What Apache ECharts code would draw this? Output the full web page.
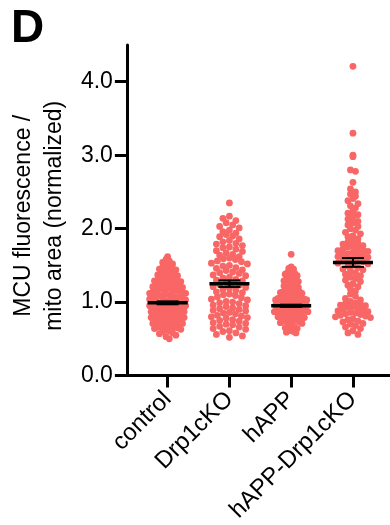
<!DOCTYPE html>
<html>
<head>
<meta charset="utf-8">
<script src="https://cdn.jsdelivr.net/npm/echarts@6/dist/echarts.min.js"></script>
<style>
html,body{margin:0;padding:0;background:#fff;}
#chart{width:390px;height:525px;}
</style>
</head>
<body>
<div id="chart"></div>
<script>
const categories = ['control', 'Drp1cKO', 'hAPP', 'hAPP-Drp1cKO'];
const yTicks = [0, 1, 2, 3, 4];

const controlValues = [
  1.62,
  1.58, 1.56, 1.54, 1.52, 1.50,
  1.49, 1.48, 1.46, 1.45, 1.44, 1.43, 1.41, 1.40,
  1.39, 1.38, 1.37, 1.36, 1.35, 1.34, 1.33, 1.32, 1.31, 1.30,
  1.29, 1.29, 1.28, 1.27, 1.26, 1.25, 1.25, 1.24, 1.23, 1.22, 1.21, 1.21, 1.20,
  1.19, 1.19, 1.18, 1.17, 1.17, 1.16, 1.15, 1.15, 1.14, 1.13, 1.12, 1.12, 1.11, 1.10,
  1.09, 1.09, 1.08, 1.07, 1.07, 1.06, 1.05, 1.05, 1.04, 1.03, 1.02, 1.02, 1.01, 1.00,
  0.99, 0.99, 0.98, 0.97, 0.97, 0.96, 0.95, 0.95, 0.94, 0.93, 0.92, 0.92, 0.91, 0.90,
  0.89, 0.89, 0.88, 0.87, 0.87, 0.86, 0.85, 0.85, 0.84, 0.83, 0.82, 0.82, 0.81, 0.80,
  0.79, 0.79, 0.78, 0.77, 0.76, 0.75, 0.75, 0.74, 0.73, 0.72, 0.71, 0.71, 0.70,
  0.69, 0.68, 0.67, 0.66, 0.66, 0.65, 0.64, 0.63, 0.62, 0.61, 0.60,
  0.58, 0.57, 0.55, 0.53, 0.50
];

const drp1ckoValues = [
  2.35,
  2.17, 2.14, 2.11,
  2.08, 2.05, 2.03, 2.01,
  1.98, 1.96, 1.94, 1.92, 1.90,
  1.89, 1.86, 1.84, 1.82, 1.80,
  1.79, 1.77, 1.75, 1.74, 1.72, 1.70,
  1.69, 1.67, 1.65, 1.64, 1.62, 1.60,
  1.59, 1.58, 1.56, 1.55, 1.53, 1.52, 1.50,
  1.49, 1.47, 1.46, 1.44, 1.43, 1.41, 1.40,
  1.39, 1.37, 1.36, 1.34, 1.33, 1.31, 1.30,
  1.29, 1.27, 1.26, 1.24, 1.23, 1.21, 1.20,
  1.19, 1.17, 1.16, 1.14, 1.13, 1.11, 1.10,
  1.09, 1.07, 1.06, 1.04, 1.03, 1.01, 1.00,
  0.99, 0.98, 0.96, 0.95, 0.94, 0.92, 0.91, 0.90,
  0.89, 0.88, 0.86, 0.85, 0.84, 0.82, 0.81, 0.80,
  0.79, 0.78, 0.76, 0.75, 0.74, 0.72, 0.71, 0.70,
  0.69, 0.67, 0.66, 0.64, 0.63, 0.61, 0.60,
  0.58, 0.56, 0.54, 0.52
];

const happValues = [
  1.65,
  1.48, 1.46, 1.45, 1.43, 1.42, 1.40,
  1.39, 1.38, 1.36, 1.35, 1.34, 1.33, 1.31, 1.30,
  1.29, 1.28, 1.27, 1.26, 1.25, 1.24, 1.23, 1.22, 1.20,
  1.19, 1.18, 1.18, 1.17, 1.16, 1.15, 1.14, 1.14, 1.13, 1.12, 1.11, 1.10,
  1.09, 1.09, 1.08, 1.08, 1.07, 1.06, 1.06, 1.05, 1.05, 1.04, 1.03, 1.03, 1.02, 1.01, 1.01, 1.00,
  0.99, 0.99, 0.98, 0.98, 0.97, 0.97, 0.96, 0.96, 0.95, 0.95, 0.94, 0.94, 0.93, 0.93, 0.92, 0.92, 0.91, 0.91, 0.90,
  0.89, 0.89, 0.88, 0.88, 0.87, 0.87, 0.86, 0.86, 0.85, 0.85, 0.84, 0.83, 0.83, 0.82, 0.82, 0.81, 0.80,
  0.79, 0.78, 0.78, 0.77, 0.76, 0.75, 0.75, 0.74, 0.73, 0.72, 0.71, 0.70,
  0.69, 0.68, 0.66, 0.65, 0.64, 0.62, 0.61,
  0.60, 0.59, 0.58
];

const happDrp1ckoValues = [
  4.21, 3.30, 3.00, 2.98, 2.80, 2.78, 2.63,
  2.54, 2.50,
  2.47, 2.44, 2.41,
  2.38, 2.34, 2.31,
  2.28, 2.24, 2.21,
  2.19, 2.16, 2.13, 2.10,
  2.08, 2.05, 2.03, 2.00,
  1.98, 1.95, 1.93, 1.90,
  1.89, 1.86, 1.84, 1.82, 1.80,
  1.79, 1.77, 1.76, 1.75, 1.73, 1.72, 1.71, 1.70,
  1.69, 1.68, 1.66, 1.65, 1.64, 1.63, 1.62, 1.61, 1.60,
  1.59, 1.57, 1.56, 1.55, 1.53, 1.52, 1.50,
  1.49, 1.47, 1.45, 1.44, 1.42, 1.40,
  1.38, 1.36, 1.34, 1.32, 1.30,
  1.28, 1.25, 1.23, 1.21,
  1.18, 1.15, 1.11,
  1.08, 1.05, 1.03, 1.01,
  0.99, 0.98, 0.97, 0.96, 0.95, 0.94, 0.93, 0.91, 0.90,
  0.89, 0.88, 0.87, 0.86, 0.85, 0.84, 0.83, 0.82, 0.81, 0.80,
  0.79, 0.77, 0.76, 0.74, 0.73, 0.71, 0.70,
  0.68, 0.66, 0.64, 0.61,
  0.58, 0.56
];

const groupValues = [controlValues, drp1ckoValues, happValues, happDrp1ckoValues];
const groupMeans = [0.99, 1.25, 0.95, 1.54];
const groupSems = [0.02, 0.045, 0.015, 0.06];

const FONT = '"Liberation Sans", Arial, Helvetica, sans-serif';
const DOT = '#F96666';
const DOT_SIZE = 6.8;
const ROW_HEIGHT = 6;                    // px, row binning like a Prism scatter dot plot
const GROUP_STEP = [3.3, 6.5, 2.4, 5.0]; // px, horizontal step inside a row
const HALF_WIDTH = 18;                   // px, max half spread of dot centres

const chart = echarts.init(document.getElementById('chart'), null, {renderer: 'canvas'});

function scatterData(offsets) {
  const out = [];
  groupValues.forEach((vals, gi) => {
    vals.forEach((v, k) => {
      out.push([gi + (offsets ? offsets[gi][k] : 0), v]);
    });
  });
  return out;
}

const option = {
  animation: false,
  title: {
    text: 'D',
    left: 6,
    top: 1,
    textStyle: {fontFamily: FONT, fontSize: 46, fontWeight: 'bold', color: '#000'}
  },
  grid: {left: 126, right: 0, top: 45, bottom: 147, containLabel: false},
  xAxis: {
    type: 'value',
    min: -0.66,
    max: 3.6,
    splitLine: {show: false},
    axisLine: {show: true, onZero: false, lineStyle: {color: '#000', width: 3}},
    axisTick: {show: true, customValues: [0, 1, 2, 3], length: 12, lineStyle: {color: '#000', width: 3}},
    axisLabel: {
      customValues: [0, 1, 2, 3],
      formatter: v => categories[Math.round(v)],
      rotate: 45,
      margin: 20,
      fontSize: 24,
      fontFamily: FONT,
      color: '#000'
    }
  },
  yAxis: {
    type: 'value',
    min: 0,
    max: 4.5,
    name: 'MCU fluorescence /\nmito area (normalized)',
    nameLocation: 'middle',
    nameGap: 49,
    nameRotate: 90,
    nameTextStyle: {fontFamily: FONT, fontSize: 23, lineHeight: 31, color: '#000', padding: [0, 11, 0, 0]},
    splitLine: {show: false},
    axisLine: {show: true, onZero: false, lineStyle: {color: '#000', width: 3}},
    axisTick: {show: true, customValues: yTicks, length: 12, lineStyle: {color: '#000', width: 3}},
    axisLabel: {
      customValues: yTicks,
      formatter: v => Number(v).toFixed(1),
      margin: 14,
      fontSize: 23,
      fontFamily: FONT,
      color: '#000'
    }
  },
  series: [
    {
      id: 'dots',
      type: 'scatter',
      symbol: 'circle',
      symbolSize: DOT_SIZE,
      itemStyle: {color: DOT, opacity: 1},
      emphasis: {disabled: true},
      z: 2,
      data: scatterData(null)
    },
    {
      id: 'meanSem',
      type: 'custom',
      z: 5,
      encode: {x: 0, y: 1},
      data: categories.map((c, i) => [i, groupMeans[i], groupSems[i]]),
      renderItem: function (params, api) {
        const i = api.value(0), m = api.value(1), s = api.value(2);
        const c = api.coord([i, m]);
        const t = api.coord([i, m + s]);
        const b = api.coord([i, m - s]);
        const st = {stroke: '#000', lineWidth: 2};
        return {
          type: 'group',
          children: [
            {type: 'line', shape: {x1: c[0], y1: t[1], x2: c[0], y2: b[1]}, style: st},
            {type: 'line', shape: {x1: c[0] - 11, y1: t[1], x2: c[0] + 11, y2: t[1]}, style: st},
            {type: 'line', shape: {x1: c[0] - 11, y1: b[1], x2: c[0] + 11, y2: b[1]}, style: st},
            {type: 'line', shape: {x1: c[0] - 20, y1: c[1], x2: c[0] + 20, y2: c[1]}, style: {stroke: '#000', lineWidth: 3.5}}
          ]
        };
      }
    }
  ]
};

chart.setOption(option);

// Row-binned scatter dot layout (pixel space), converted back to axis units
function rowLayout(pys, stepPx) {
  const rows = {};
  pys.forEach((py, i) => {
    const r = Math.floor(py / ROW_HEIGHT);
    (rows[r] = rows[r] || []).push(i);
  });
  const xs = new Array(pys.length).fill(0);
  Object.keys(rows).forEach(r => {
    const members = rows[r].sort((a, b) => pys[a] - pys[b]);
    const k = members.length;
    const step = k > 1 ? Math.min(stepPx, (2 * HALF_WIDTH) / (k - 1)) : 0;
    const slots = [];
    for (let j = 0; j < k; j++) slots.push((j - (k - 1) / 2) * step);
    slots.sort((a, b) => Math.abs(a) - Math.abs(b) || a - b);
    members.forEach((idx, j) => { xs[idx] = slots[j]; });
  });
  return xs;
}

const p0 = chart.convertToPixel({gridIndex: 0}, [0, 0]);
const p1 = chart.convertToPixel({gridIndex: 0}, [1, 0]);
const pxPerCat = p1[0] - p0[0];
const offsets = groupValues.map((vals, gi) => {
  const pys = vals.map(v => chart.convertToPixel({gridIndex: 0}, [gi, v])[1]);
  return rowLayout(pys, GROUP_STEP[gi]).map(px => px / pxPerCat);
});

chart.setOption({series: [{id: 'dots', data: scatterData(offsets)}]});
</script>
</body>
</html>
